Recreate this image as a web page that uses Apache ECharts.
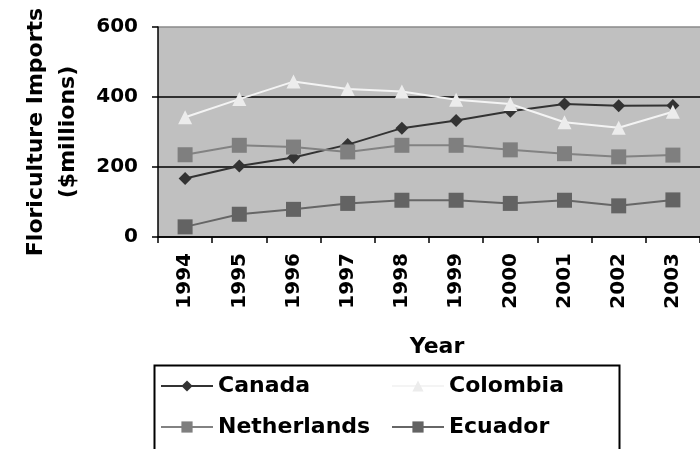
<!DOCTYPE html>
<html>
<head>
<meta charset="utf-8">
<script src="https://cdn.jsdelivr.net/npm/echarts@6/dist/echarts.min.js"></script>
<style>
  html, body { margin: 0; padding: 0; background: #fff; }
  #chart { width: 700px; height: 449px; }
</style>
</head>
<body>
<div id="chart"></div>
<script>
// values ($ millions)
const years = ["1994", "1995", "1996", "1997", "1998", "1999", "2000", "2001", "2002", "2003"];
const canada = [167, 203, 227, 264, 311, 333, 359, 380, 375, 376];
const colombia = [342, 394, 444, 423, 416, 392, 380, 328, 312, 358];
const netherlands = [235, 262, 257, 243, 262, 262, 249, 238, 229, 234];
const ecuador = [29, 65, 79, 96, 105, 105, 96, 105, 89, 106];

const font = "DejaVu Sans";
const chart = echarts.init(document.getElementById("chart"));

const mkLine = (name, data, color, symbol, size, markerColor) => ({
  name: name,
  type: "line",
  data: data,
  symbol: symbol,
  symbolSize: size,
  lineStyle: { color: color, width: 2 },
  itemStyle: { color: markerColor || color, borderWidth: 0 },
  emphasis: { disabled: true },
});

const legendText = { color: "#000", fontWeight: "bold", fontSize: 22, fontFamily: font };

const option = {
  animation: false,
  textStyle: { fontFamily: font },
  grid: {
    left: 158,
    top: 27,
    width: 553, // plot runs past the right edge in the picture
    height: 210,
    show: true,
    backgroundColor: "#c0c0c0",
    borderWidth: 0,
  },
  xAxis: {
    type: "category",
    data: years,
    axisLine: { lineStyle: { color: "#000", width: 1.5 } },
    axisTick: { show: true, length: 6, lineStyle: { color: "#000", width: 1.5 } },
    axisLabel: {
      rotate: 90,
      margin: 16,
      color: "#000",
      fontWeight: "bold",
      fontSize: 20,
    },
    name: "Year",
    nameLocation: "middle",
    nameGap: 99,
    nameTextStyle: { color: "#000", fontWeight: "bold", fontSize: 22, padding: [0, 0, 0, 16] },
  },
  yAxis: {
    type: "value",
    min: 0,
    max: 600,
    interval: 200,
    axisLine: { show: true, lineStyle: { color: "#000", width: 1.5 } },
    axisTick: { show: true, length: 6, lineStyle: { color: "#000", width: 1.5 } },
    axisLabel: { margin: 20, color: "#000", fontWeight: "bold", fontSize: 20 },
    splitLine: {
      show: true,
      lineStyle: { color: ["#000", "#000", "#000", "#8a8a8a"], width: 1.5 },
    },
    name: "Floriculture Imports\n($millions)",
    nameLocation: "middle",
    nameRotate: 90,
    nameGap: 74,
    nameTextStyle: { color: "#000", fontWeight: "bold", fontSize: 22, lineHeight: 32 },
  },
  legend: [
    {
      data: ["Canada", "Netherlands"],
      orient: "vertical",
      left: 155,
      top: 370,
      itemWidth: 52,
      itemHeight: 14,
      itemGap: 19,
      textStyle: legendText,
    },
    {
      data: ["Colombia", "Ecuador"],
      orient: "vertical",
      left: 386,
      top: 370,
      itemWidth: 52,
      itemHeight: 14,
      itemGap: 19,
      textStyle: legendText,
    },
  ],
  graphic: [
    {
      type: "rect",
      left: 152,
      top: 363,
      shape: { width: 465, height: 100 },
      style: { fill: "none", stroke: "#000", lineWidth: 2 },
      silent: true,
    },
  ],
  series: [
    mkLine("Canada", canada, "#333333", "diamond", 13),
    mkLine("Colombia", colombia, "#f4f4f4", "triangle", 14, "#ececec"),
    mkLine("Netherlands", netherlands, "#828282", "rect", 15, "#7f7f7f"),
    mkLine("Ecuador", ecuador, "#666666", "rect", 15, "#636363"),
  ],
};

chart.setOption(option);
</script>
</body>
</html>
